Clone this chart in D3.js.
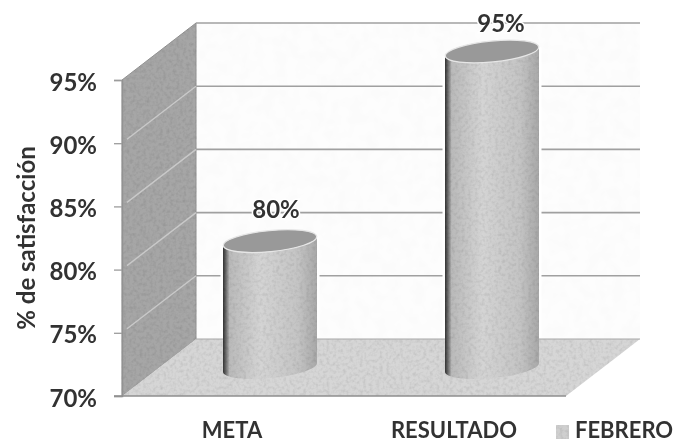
<!DOCTYPE html>
<html>
<head>
<meta charset="utf-8">
<script src="https://cdn.jsdelivr.net/npm/d3@7"></script>
<style>
html,body{margin:0;padding:0;background:#fff}
svg{display:block}
text{font-family:Lato,sans-serif;fill:#333}
</style>
</head>
<body>
<script>
var categorias=["META","RESULTADO"]
var valores=[80,95]
var etiquetas=["80%","95%"]
var ticks=[70,75,80,85,90,95]
var leyenda="FEBRERO"
var tituloY="% de satisfacción"

var screen2={width:674,height:443}
// depth of the 3d box
var depth={x:74,y:-57}

var yScale=d3.scaleLinear().domain([70,95]).range([396,80])
var xScale=d3.scaleBand().domain(categorias).range([122,566]).paddingInner(0)
var right=xScale.range()[1]
var base=yScale(70)
var top95=yScale(95)
var bw=94

var svg=d3.select("body").append("svg")
  .attr("width",screen2.width)
  .attr("height",screen2.height)
var defs=svg.append("defs")

// scanned paper look
function grain(id,freq,amount){
  var f=defs.append("filter").attr("id",id)
    .attr("x","-5%").attr("y","-5%").attr("width","110%").attr("height","110%")
  f.append("feTurbulence").attr("type","fractalNoise").attr("baseFrequency",freq)
    .attr("numOctaves",2).attr("seed",4).attr("result","n")
  f.append("feColorMatrix").attr("in","n").attr("type","matrix")
    .attr("values","0 0 0 0 0  0 0 0 0 0  0 0 0 0 0  "+amount+" 0 0 0 "+(-amount*0.42))
    .attr("result","g")
  f.append("feComposite").attr("in","g").attr("in2","SourceAlpha").attr("operator","in").attr("result","g2")
  f.append("feMerge").selectAll("feMergeNode").data(["SourceGraphic","g2"]).enter()
    .append("feMergeNode").attr("in",function(d){return d})
}
grain("grano",0.3,0.4)
grain("granoSuave",0.08,0.05)
defs.append("filter").attr("id","borroso").append("feGaussianBlur").attr("stdDeviation",0.5)

var grad=defs.append("linearGradient").attr("id","cilindro")
grad.selectAll("stop")
  .data([[0,"#333"],[0.025,"#5f5f5f"],[0.07,"#bababa"],[0.4,"#d4d4d4"],[0.8,"#c4c4c4"],[1,"#a8a8a8"]])
  .enter().append("stop")
  .attr("offset",function(d){return d[0]})
  .attr("stop-color",function(d){return d[1]})

var g=svg.append("g").attr("filter","url(#borroso)")

// back wall
g.append("rect")
  .attr("x",xScale.range()[0]+depth.x).attr("y",top95+depth.y)
  .attr("width",right-xScale.range()[0]).attr("height",base-top95)
  .attr("fill","#fdfdfd").attr("filter","url(#granoSuave)")

// side wall
g.append("path")
  .attr("d",d3.line()([[122,base],[122+depth.x,base+depth.y],[122+depth.x,top95+depth.y],[122,top95]])+"Z")
  .attr("fill","#a6a6a6").attr("stroke","#929292").attr("filter","url(#grano)")

// gridlines, back wall and side wall
g.selectAll("line.grid").data(ticks.slice(1)).enter().append("line")
  .attr("class","grid")
  .attr("x1",122+depth.x).attr("x2",right+depth.x)
  .attr("y1",function(d){return yScale(d)+depth.y})
  .attr("y2",function(d){return yScale(d)+depth.y})
  .attr("stroke","#a0a0a0").attr("stroke-width",1.6)
g.selectAll("line.lado").data(ticks.slice(1,5)).enter().append("line")
  .attr("class","lado")
  .attr("x1",127).attr("x2",122+depth.x)
  .attr("y1",function(d){return yScale(d)-4})
  .attr("y2",function(d){return yScale(d)+depth.y})
  .attr("stroke","#c9c9c9").attr("stroke-width",1.4)

// cylinders
var rx=bw/2,ry=10.5,tilt=4.6
function cuerpo(d){
  var yt=yScale(d)+depth.y/2
  var yb=base+depth.y/2
  return "M"+(-rx)+","+(yt+tilt)+
    "A"+rx+","+ry+" -5.6 0 0 "+rx+","+(yt-tilt)+
    "L"+rx+","+(yb-tilt)+
    "A"+rx+","+ry+" -5.6 0 1 "+(-rx)+","+(yb+tilt)+"Z"
}
function centro(i){
  return xScale(categorias[i])+xScale.bandwidth()/2+depth.x/2
}
// white gap the gridlines leave round each cylinder
g.selectAll("path.halo").data(valores).enter().append("path")
  .attr("class","halo")
  .attr("transform",function(d,i){return "translate("+centro(i)+",0)"})
  .attr("d",cuerpo)
  .attr("fill","none").attr("stroke","#fff").attr("stroke-width",5)

// floor
g.append("path")
  .attr("d",d3.line()([[122,base],[122+depth.x,base+depth.y],[right+depth.x,base+depth.y],[right,base]])+"Z")
  .attr("fill","#d6d6d6").attr("filter","url(#grano)")
g.append("line")
  .attr("x1",122+depth.x).attr("x2",right+depth.x)
  .attr("y1",base+depth.y).attr("y2",base+depth.y)
  .attr("stroke","#a8a8a8").attr("stroke-width",1.2)

var cil=g.selectAll("g.cil").data(valores).enter().append("g").attr("class","cil")
  .attr("transform",function(d,i){return "translate("+centro(i)+",0)"})
cil.append("path").attr("d",cuerpo)
  .attr("fill","url(#cilindro)").attr("filter","url(#grano)")
cil.append("ellipse")
  .attr("rx",rx).attr("ry",ry)
  .attr("transform",function(d){return "translate(0,"+(yScale(d)+depth.y/2)+") rotate(-5.6)"})
  .attr("fill","#999").attr("stroke","#e6e6e6").attr("stroke-width",1.3)

// data labels
g.selectAll("text.dato").data(valores).enter().append("text")
  .attr("class","dato")
  .attr("x",function(d,i){return centro(i)+(i==0?6:9)})
  .attr("y",function(d,i){return yScale(d)+depth.y/2-(i==0?23:20)})
  .attr("text-anchor","middle")
  .style("font-size","24px").style("font-weight",700)
  .style("paint-order","stroke").style("stroke","#fff").style("stroke-width",3)
  .text(function(d,i){return etiquetas[i]})

// y axis
var axisG=g.append("g").attr("transform","translate(122,0)")
  .call(d3.axisLeft(yScale).tickValues(ticks).tickSize(8).tickPadding(17)
    .tickFormat(function(d){return d+"%"}))
axisG.selectAll(".domain").attr("stroke","#929292").attr("stroke-width",1.5)
axisG.selectAll(".tick line").attr("stroke","#9c9c9c").attr("stroke-width",1.3)
axisG.selectAll(".tick text")
  .attr("dy","0.42em")
  .style("font-family","Lato,sans-serif").style("font-size","24px").style("font-weight",700).style("fill","#333")

// bottom edge
g.append("line").attr("x1",114).attr("x2",right).attr("y1",base).attr("y2",base)
  .attr("stroke","#8e8e8e").attr("stroke-width",1.6)

// category labels
g.selectAll("text.cat").data(categorias).enter().append("text")
  .attr("class","cat")
  .attr("x",function(d){return xScale(d)+xScale.bandwidth()/2-1})
  .attr("y",438)
  .attr("text-anchor","middle")
  .style("font-size","22px").style("font-weight",700)
  .text(function(d){return d})

// axis title
g.append("text")
  .attr("transform","translate(35,238) rotate(-90)")
  .attr("text-anchor","middle")
  .style("font-size","24px").style("font-weight",700)
  .text(tituloY)

// legend
g.append("rect").attr("x",556).attr("y",425).attr("width",13).attr("height",14)
  .attr("fill","#cfcfcf").attr("filter","url(#grano)")
g.append("text").attr("x",575).attr("y",438)
  .style("font-size","22px").style("font-weight",700)
  .text(leyenda)
</script>
</body>
</html>
